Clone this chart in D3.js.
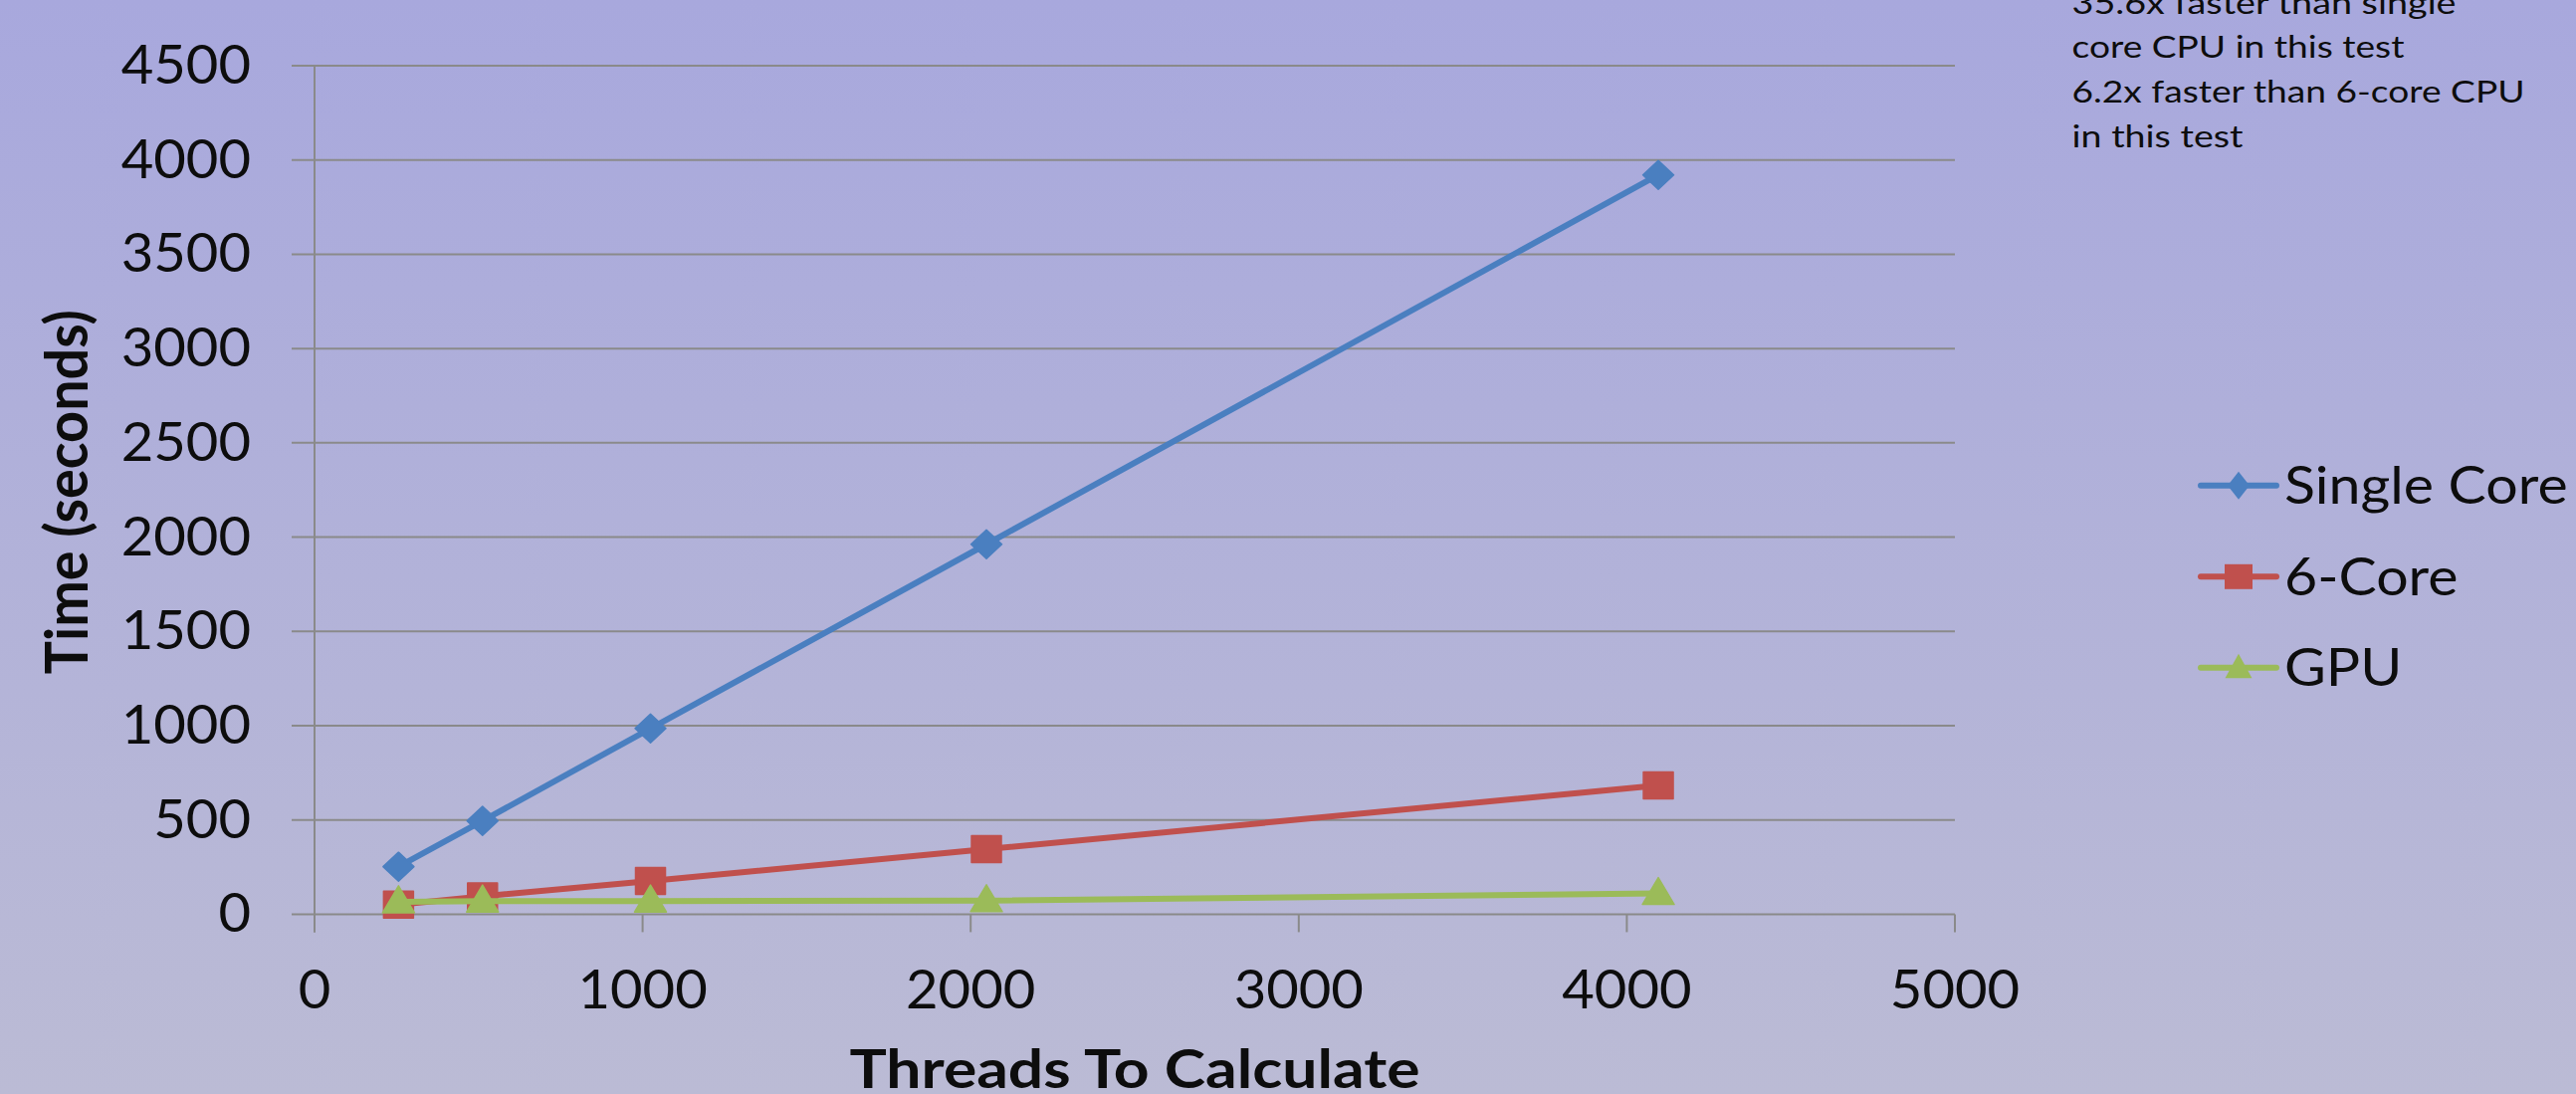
<!DOCTYPE html>
<html>
<head>
<meta charset="utf-8">
<script src="https://cdn.jsdelivr.net/npm/d3@7"></script>
<style>
  html, body { margin: 0; padding: 0; overflow: hidden; background: #b0b0d8; }
  svg { display: block; }
  text { font-family: Lato, "Open Sans", sans-serif; fill: #0d0d0d; }
</style>
</head>
<body>
<svg id="chart" width="2588" height="1099"></svg>
<script>
// ---- data ----
const threads = [256, 512, 1024, 2048, 4096];
const singleCore = [252, 495, 985, 1962, 3921];
const sixCore = [51, 95, 176, 345, 683];
const gpu = [66, 70, 70, 72, 110];
const seriesNames = ["Single Core", "6-Core", "GPU"];
const seriesColors = ["#4a7fc0", "#c0504d", "#9bbb59"];
const xTicks = [0, 1000, 2000, 3000, 4000, 5000];
const yTicks = [0, 500, 1000, 1500, 2000, 2500, 3000, 3500, 4000, 4500];
const xTitle = "Threads To Calculate";
const yTitle = "Time (seconds)";
const noteLines = ["35.6x faster than single", "core CPU in this test", "6.2x faster than 6-core CPU", "in this test"];

(function () {
// ---- layout ----
const W = 2588, H = 1099;
const pLeft = 316, pRight = 1964, pTop = 66, pBottom = 918.4;

const svg = d3.select("#chart");
const defs = svg.append("defs");
const grad = defs.append("linearGradient").attr("id", "bg").attr("x1", 0).attr("y1", 0).attr("x2", 0).attr("y2", 1);
grad.append("stop").attr("offset", "0%").attr("stop-color", "#a8a8dd");
grad.append("stop").attr("offset", "100%").attr("stop-color", "#bbbbd5");
svg.append("rect").attr("width", W).attr("height", H).attr("fill", "url(#bg)");

const x = d3.scaleLinear().domain([0, 5000]).range([pLeft, pRight]);
const y = d3.scaleLinear().domain([0, 4500]).range([pBottom, pTop]);

const gridColor = "#8a8a8a";

// widen text slightly (reference font is a bit wider than Lato)
function widen(sel, f) {
  sel.each(function () {
    const n = this.getComputedTextLength();
    d3.select(this).attr("textLength", n * f).attr("lengthAdjust", "spacingAndGlyphs");
  });
}

// horizontal gridlines (with left tick stubs)
svg.append("g").selectAll("line").data(yTicks).join("line")
  .attr("x1", pLeft - 23).attr("x2", pRight)
  .attr("y1", d => y(d)).attr("y2", d => y(d))
  .attr("stroke", gridColor).attr("stroke-width", 2);

// y axis line
svg.append("line").attr("x1", pLeft).attr("x2", pLeft)
  .attr("y1", y(4500)).attr("y2", pBottom + 18)
  .attr("stroke", gridColor).attr("stroke-width", 2);

// x ticks
svg.append("g").selectAll("line").data(xTicks).join("line")
  .attr("x1", d => x(d)).attr("x2", d => x(d))
  .attr("y1", pBottom).attr("y2", pBottom + 18)
  .attr("stroke", gridColor).attr("stroke-width", 2);

// y tick labels
const yl = svg.append("g").selectAll("text").data(yTicks).join("text")
  .attr("x", 252).attr("y", d => y(d) + 18)
  .attr("text-anchor", "end").attr("font-size", 54)
  .text(d => d);
widen(yl, 1.04);

// x tick labels
const xl = svg.append("g").selectAll("text").data(xTicks).join("text")
  .attr("x", d => x(d)).attr("y", 1012.5)
  .attr("text-anchor", "middle").attr("font-size", 54)
  .text(d => d);
widen(xl, 1.04);

// axis titles
svg.append("text")
  .attr("x", (pLeft + pRight) / 2).attr("y", 1093)
  .attr("text-anchor", "middle").attr("font-size", 54).attr("font-weight", "bold")
  .attr("textLength", 573).attr("lengthAdjust", "spacingAndGlyphs")
  .text(xTitle);

svg.append("text")
  .attr("transform", "translate(88," + ((pTop + pBottom) / 2 + 2) + ") rotate(-90)")
  .attr("text-anchor", "middle").attr("font-size", 60).attr("font-weight", "bold")
  .attr("textLength", 366).attr("lengthAdjust", "spacingAndGlyphs")
  .text(yTitle);

// ---- series ----
const allSeries = [singleCore, sixCore, gpu].map((vals, i) => ({
  name: seriesNames[i], color: seriesColors[i], kind: i,
  points: threads.map((t, j) => ({ t, v: vals[j] }))
}));

function markerPath(kind, cx, cy, legend) {
  if (kind === 0) {
    const hw = legend ? 11 : 15.5, hh = legend ? 14 : 14.5;
    return `M${cx},${cy - hh}L${cx + hw},${cy}L${cx},${cy + hh}L${cx - hw},${cy}Z`;
  }
  if (kind === 1) {
    const hw = legend ? 14 : 15, hh = legend ? 12.5 : 13.5;
    return `M${cx - hw},${cy - hh}H${cx + hw}V${cy + hh}H${cx - hw}Z`;
  }
  const hw = legend ? 13.5 : 16, up = legend ? 14 : 16, dn = legend ? 10.5 : 11;
  return `M${cx},${cy - up}L${cx + hw},${cy + dn}L${cx - hw},${cy + dn}Z`;
}

const line = d3.line().x(d => x(d.t)).y(d => y(d.v));

const sg = svg.append("g").selectAll("g").data(allSeries).join("g");
sg.append("path")
  .attr("d", d => line(d.points))
  .attr("fill", "none").attr("stroke", d => d.color)
  .attr("stroke-width", 6).attr("stroke-linejoin", "round").attr("stroke-linecap", "round");
sg.each(function (s) {
  d3.select(this).selectAll("path.m").data(s.points).join("path")
    .attr("class", "m")
    .attr("d", p => markerPath(s.kind, x(p.t), y(p.v), false))
    .attr("fill", s.color).attr("stroke", s.color).attr("stroke-width", 1.5)
    .attr("stroke-linejoin", "round");
});

// ---- legend ----
const legendY = [487.7, 579.3, 670.7];
const lg = svg.append("g").selectAll("g").data(allSeries).join("g");
lg.append("line")
  .attr("x1", 2211).attr("x2", 2287)
  .attr("y1", (d, i) => legendY[i]).attr("y2", (d, i) => legendY[i])
  .attr("stroke", d => d.color).attr("stroke-width", 6).attr("stroke-linecap", "round");
lg.append("path")
  .attr("d", (d, i) => markerPath(d.kind, 2249, legendY[i], true))
  .attr("fill", d => d.color);
const lt = lg.append("text")
  .attr("x", 2295).attr("y", (d, i) => legendY[i] + 18.5)
  .attr("font-size", 53)
  .text(d => d.name);
widen(lt, 1.08);

// ---- annotation ----
const noteLens = [386, 334, 455, 172];
svg.append("g").selectAll("text").data(noteLines).join("text")
  .attr("x", 2081.5).attr("y", (d, i) => 13.7 + i * 44.6)
  .attr("font-size", 31)
  .attr("textLength", (d, i) => noteLens[i]).attr("lengthAdjust", "spacingAndGlyphs")
  .text(d => d);
})();
</script>
</body>
</html>
